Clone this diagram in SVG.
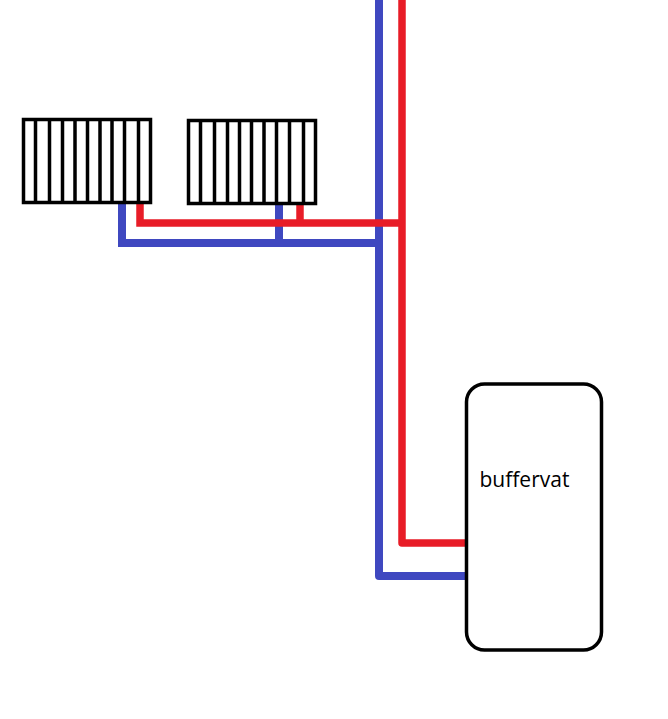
<svg xmlns="http://www.w3.org/2000/svg" width="668" height="719" viewBox="0 0 668 719">
<style>
.red{fill:none;stroke:#e81c27;stroke-width:7.5;stroke-linejoin:miter}
.blue{fill:none;stroke:#3f48c0;stroke-width:8;stroke-linejoin:miter}
.round{stroke-linejoin:round}
.box{fill:#fff;stroke:#000;stroke-width:3.5}
.fin{fill:none;stroke:#000;stroke-width:3.5}
text{font-family:"Open Sans","Noto Sans",sans-serif;font-size:21px;fill:#000}
</style>
<rect width="668" height="719" fill="#fff"/>
<g id="connectors">
<path class="blue round" d="M379 0V576H466"/>
<path class="blue" d="M122 203V243H376"/>
<path class="blue" d="M279 203V243"/>
<path class="red round" d="M402 0V543H466"/>
<path class="red" d="M140 203V223H402"/>
<path class="red" d="M300 203V223"/>
</g>
<g id="radiator-1">
<rect class="box" x="23.500" y="119.500" width="127" height="83"/>
<path class="fin" d="M35.500 119V203M49.500 119V203M62.500 119V203M75 119V203M87.500 119V203M100 119V203M112 119V203M124.500 119V203M138.500 119V203"/>
</g>
<g id="radiator-2">
<rect class="box" x="188.500" y="120.500" width="127" height="83"/>
<path class="fin" d="M200.500 120V204M214.500 120V204M227.500 120V204M239.500 120V204M251.500 120V204M264 120V204M276.500 120V204M289.500 120V204M303.500 120V204"/>
</g>
<g id="buffervat">
<rect class="box" x="466.500" y="384" width="135" height="266" rx="18" ry="18"/>
<text x="479.500" y="486.500">buffervat</text>
</g>
</svg>
